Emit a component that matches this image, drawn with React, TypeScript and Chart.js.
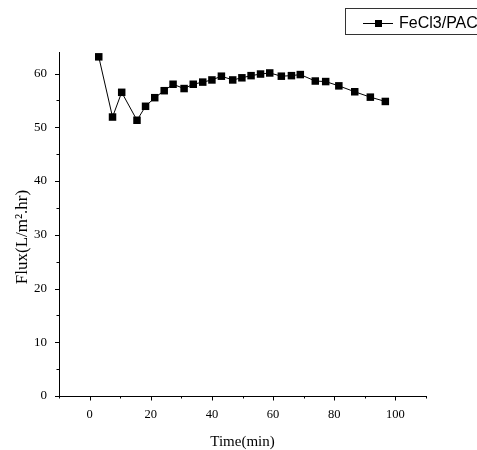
import React, { useEffect, useRef } from "react";
import { Chart, registerables } from "chart.js";

Chart.register(...registerables);

const seriesLabel = "FeCl3/PAC";
const timeMin = [3, 7.5, 10.5, 15.5, 18.3, 21.3, 24.4, 27.3, 30.9, 33.9, 37, 40, 43.1, 46.8, 49.8, 52.8, 55.9, 58.9, 62.7, 66, 68.9, 73.8, 77.2, 81.5, 86.7, 91.8, 96.7];
const flux = [63.1, 51.9, 56.5, 51.3, 53.9, 55.5, 56.8, 58.0, 57.2, 58.0, 58.4, 58.8, 59.5, 58.8, 59.2, 59.6, 59.9, 60.1, 59.5, 59.6, 59.8, 58.6, 58.5, 57.7, 56.6, 55.6, 54.8];
const xTitle = "Time(min)";
const yTitle = "Flux(L/m\u00B2.hr)";
const xRange = [-10, 110];
const yRange = [0, 64];

const SERIF = '"Liberation Serif", "Times New Roman", serif';
const SANS = '"Liberation Sans", Arial, sans-serif';

const tickMarks = {
  id: "tickMarks",
  afterDraw(chart: any) {
    const ctx = chart.ctx;
    const { left, bottom } = chart.chartArea;
    const xs = chart.scales.x;
    const ys = chart.scales.y;
    ctx.save();
    ctx.strokeStyle = "#000";
    ctx.lineWidth = 1;
    ctx.beginPath();
    xs.ticks.forEach((t: any) => {
      if (t.value % 10 !== 0) return;
      const px = Math.round(xs.getPixelForValue(t.value)) + 0.5;
      const len = t.value % 20 === 0 ? 4.5 : 2.5;
      ctx.moveTo(px, bottom);
      ctx.lineTo(px, bottom + len);
    });
    ys.ticks.forEach((t: any) => {
      if (t.value % 5 !== 0) return;
      const py = Math.round(ys.getPixelForValue(t.value)) + 0.5;
      const len = t.value % 10 === 0 ? 4 : 2.5;
      ctx.moveTo(left - len, py);
      ctx.lineTo(left, py);
    });
    ctx.stroke();

    // y-axis title
    ctx.fillStyle = "#000";
    ctx.font = `17px ${SERIF}`;
    ctx.textAlign = "center";
    ctx.textBaseline = "middle";
    ctx.translate(23, 237);
    ctx.rotate(-Math.PI / 2);
    ctx.fillText(yTitle, 0, 0);
    ctx.restore();
  },
};

const boxedLegend = {
  id: "boxedLegend",
  afterDraw(chart: any) {
    const ctx = chart.ctx;
    const ds = chart.data.datasets[0];
    ctx.save();
    ctx.strokeStyle = "#333";
    ctx.lineWidth = 1;
    ctx.strokeRect(345.5, 8.5, 140, 26);
    ctx.strokeStyle = "#000";
    ctx.beginPath();
    ctx.moveTo(363, 23.5);
    ctx.lineTo(393, 23.5);
    ctx.stroke();
    ctx.fillStyle = "#000";
    ctx.fillRect(375, 20, 7, 7);
    ctx.font = `16px ${SANS}`;
    ctx.textAlign = "left";
    ctx.textBaseline = "middle";
    ctx.fillText(ds.label, 399, 24);
    ctx.restore();
  },
};

export default function App() {
  const ref = useRef<HTMLCanvasElement>(null);
  useEffect(() => {
    const canvas = ref.current;
    if (!canvas) return;
    const chart = new Chart(canvas, {
      type: "line",
      data: {
        datasets: [
          {
            label: seriesLabel,
            data: timeMin.map((t, i) => ({ x: t, y: flux[i] })),
            borderColor: "#000",
            backgroundColor: "#000",
            borderWidth: 1,
            pointStyle: "rect",
            pointRadius: 5.3,
            pointBorderWidth: 0,
            pointBackgroundColor: "#000",
            tension: 0,
          },
        ],
      },
      options: {
        responsive: false,
        animation: false,
        devicePixelRatio: 1,
        layout: { padding: { top: 52, right: 51, left: 0, bottom: 0 } },
        plugins: { legend: { display: false }, tooltip: { enabled: false } },
        scales: {
          x: {
            type: "linear",
            min: xRange[0],
            max: xRange[1],
            grid: { display: true, drawOnChartArea: false, drawTicks: true, tickLength: 4, tickColor: "transparent" },
            border: { display: true, color: "#000", width: 1 },
            ticks: {
              stepSize: 10,
              includeBounds: false,
              autoSkip: false,
              maxRotation: 0,
              padding: 7,
              color: "#000",
              font: { family: SERIF, size: 12.5 },
              callback: (v: any) => (Number(v) % 20 === 0 ? String(v) : ""),
            },
            title: {
              display: true,
              text: xTitle,
              color: "#000",
              padding: 0,
              font: { family: SERIF, size: 15, lineHeight: 1 },
            },
            afterFit: (s: any) => {
              s.height = 54;
            },
          },
          y: {
            min: yRange[0],
            max: yRange[1],
            grid: { display: true, drawOnChartArea: false, drawTicks: true, tickLength: 4, tickColor: "transparent" },
            border: { display: true, color: "#000", width: 1 },
            ticks: {
              stepSize: 5,
              includeBounds: false,
              autoSkip: false,
              padding: 8,
              color: "#000",
              font: { family: SERIF, size: 13 },
              callback: (v: any) => (Number(v) % 10 === 0 ? String(v) : ""),
            },
            afterFit: (s: any) => {
              s.width = 59;
            },
          },
        },
      },
      plugins: [tickMarks, boxedLegend],
    } as any);
    return () => chart.destroy();
  }, []);
  return (
    <div style={{ position: "absolute", left: 0, top: 0, width: 477, height: 450, background: "#fff" }}>
      <canvas ref={ref} width={477} height={450} />
    </div>
  );
}
